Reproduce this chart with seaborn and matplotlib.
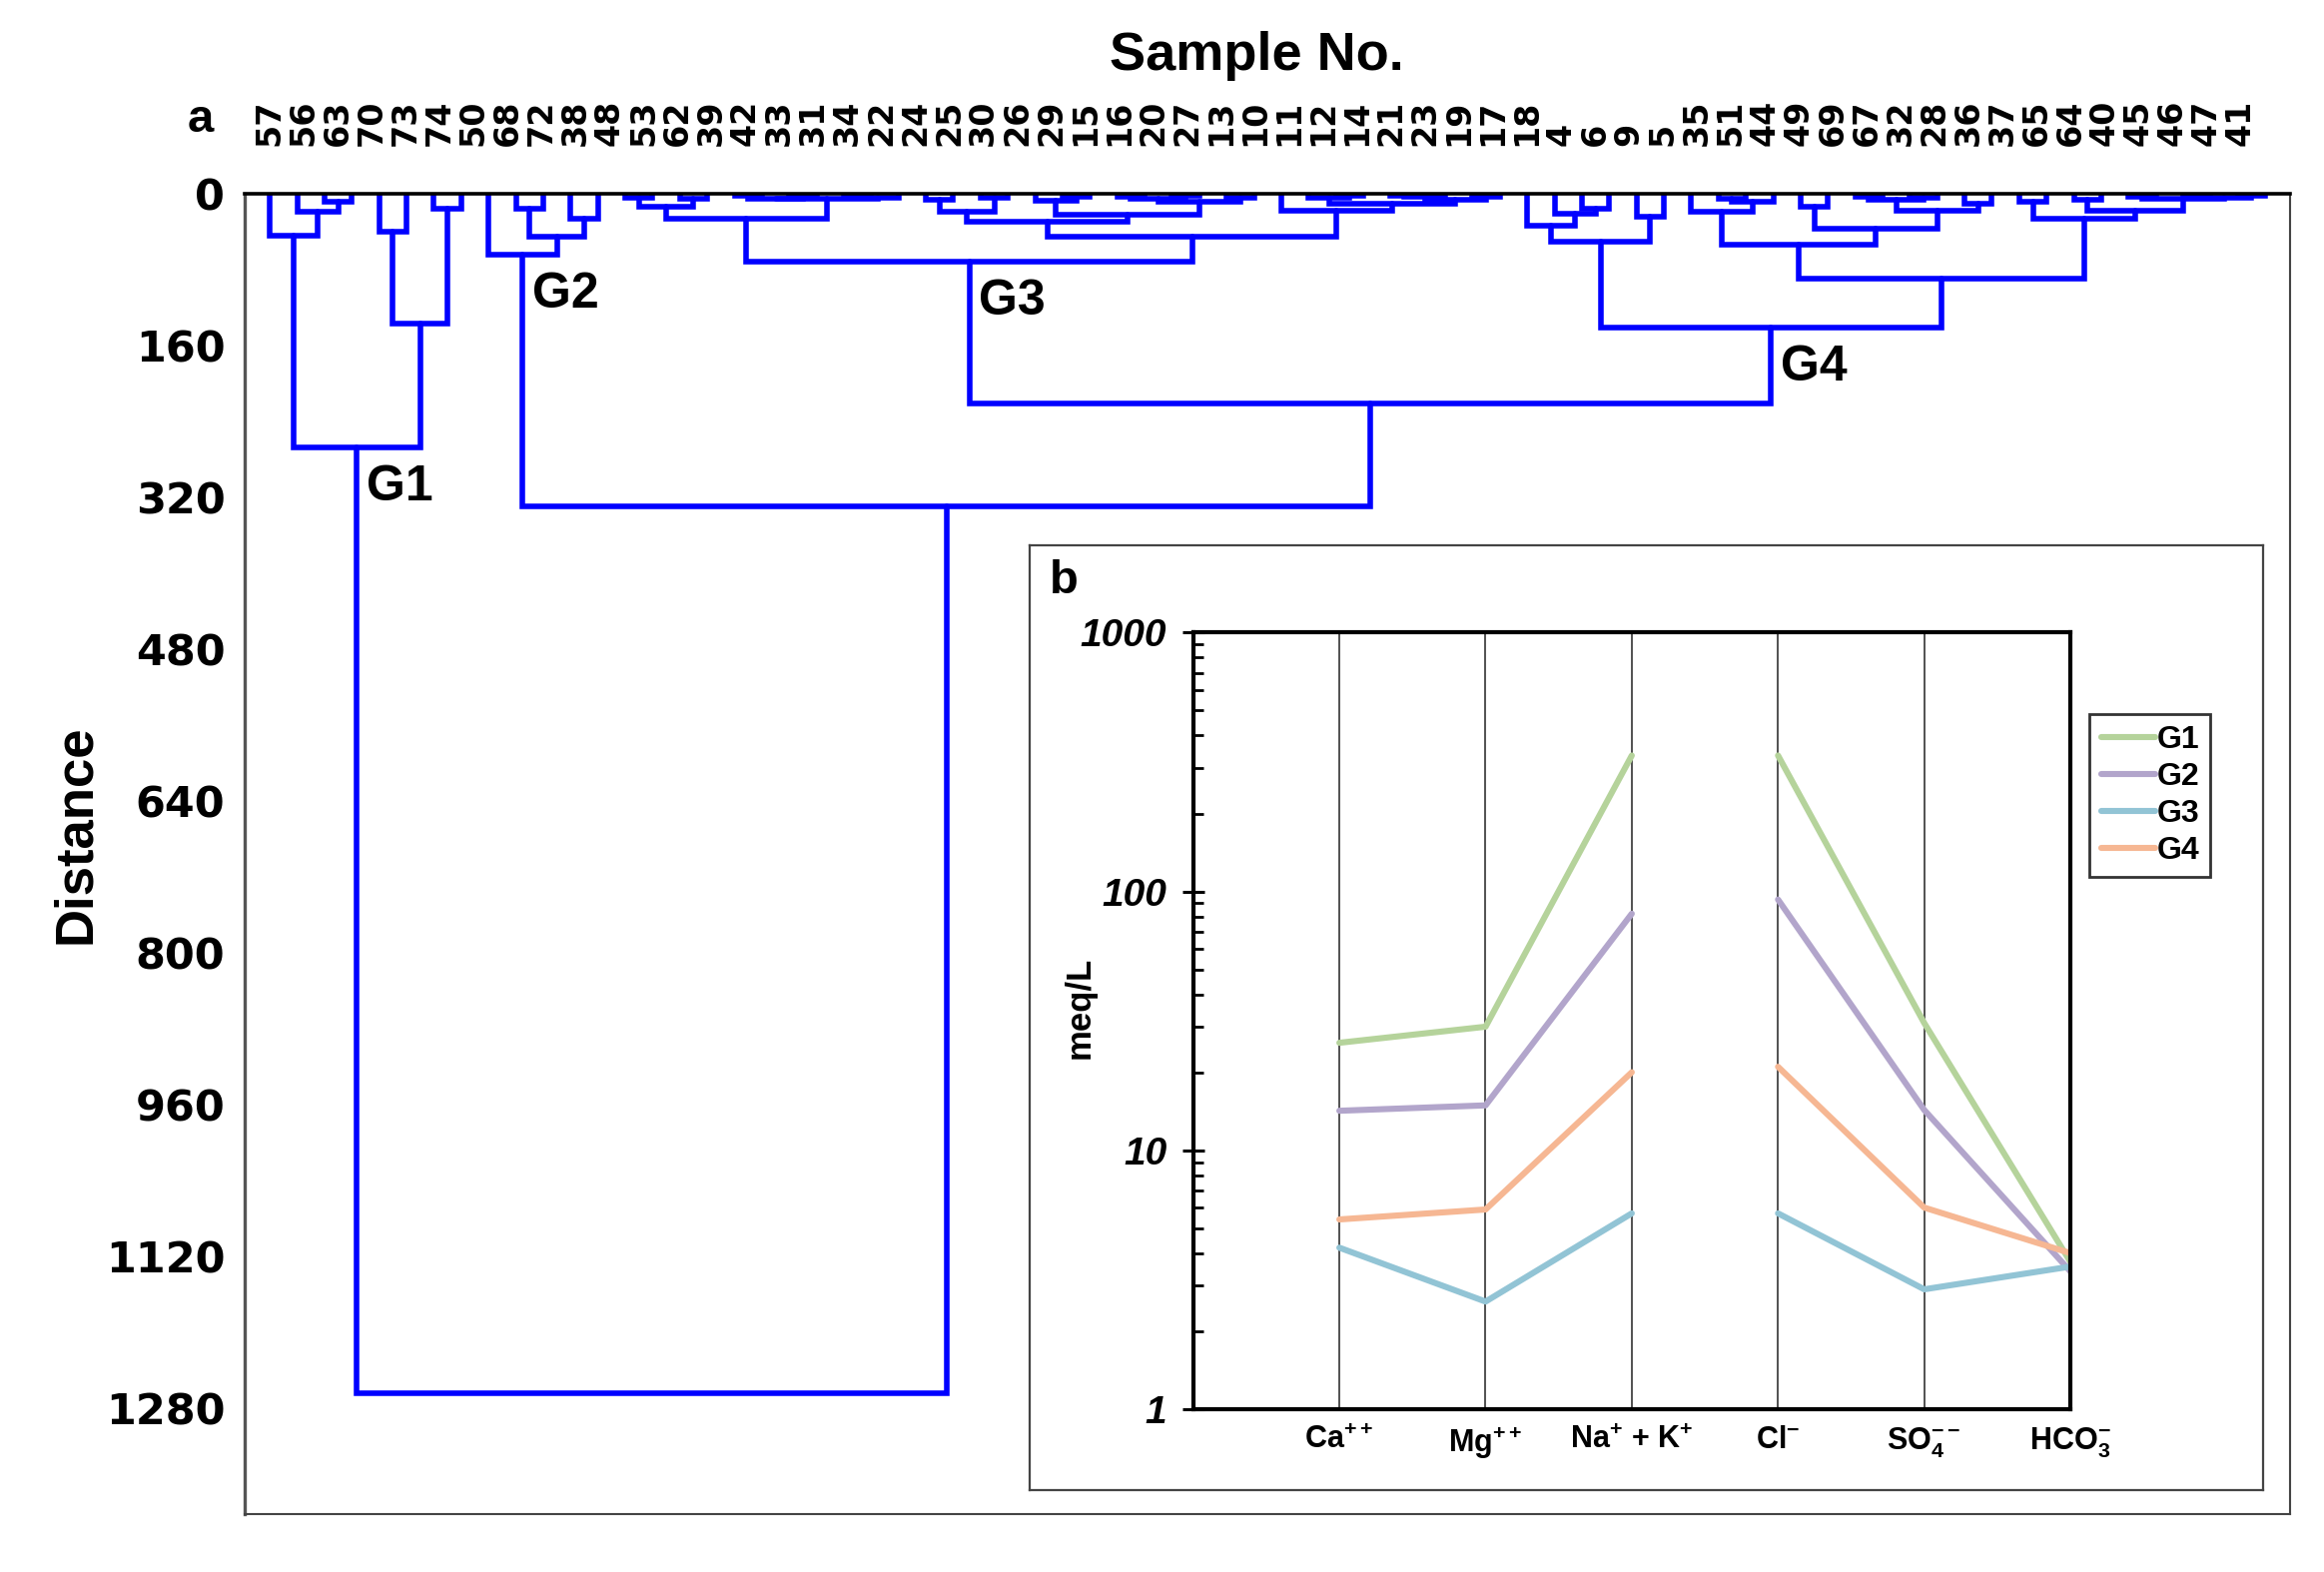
import numpy as np
import pandas as pd
import matplotlib
matplotlib.use("Agg")
import matplotlib.pyplot as plt
from matplotlib.ticker import LogLocator, NullFormatter
import seaborn as sns

# --- Dendrogram data (panel a) ---
SAMPLE_LABELS = [57, 56, 63, 70, 73, 74, 50, 68, 72, 38, 48, 53, 62, 39, 42, 33, 31,
                 34, 22, 24, 25, 30, 26, 29, 15, 16, 20, 27, 13, 10, 11, 12, 14, 21,
                 23, 19, 17, 18, 4, 6, 9, 5, 35, 51, 44, 49, 69, 67, 32, 28, 36, 37,
                 65, 64, 40, 45, 46, 47, 41]
N_LEAVES = 74
DIST_TICKS = [0, 160, 320, 480, 640, 800, 960, 1120, 1280]

# node = (left, right, merge distance); an int is a leaf slot
G1 = ((0, (1, (2, 3, 8), 19), 44), ((4, 5, 40), (6, 7, 15), 136), 267)
G2 = (8, ((9, 10, 15), (11, 12, 26), 45), 64)
G3_LEFT = (((13, 14, 4), (15, 16, 5), 13.5),
           (((17, 18, 2), (19, 20, 3), 4.5), ((21, 22, 2), 23, 3.5), 5), 26)
G3_RIGHT = ((((24, 25, 6), (26, 27, 4), 19),
             ((28, (29, 30, 3), 7), (((31, 32, 3), (33, 34, 2), 5), (35, 36, 4), 7.5), 22), 29),
            (37, ((38, (39, 40, 2), 4), (((41, 42, 2), 43, 3), (44, 45, 3), 6), 10), 17), 45)
G3 = (G3_LEFT, G3_RIGHT, 71)
G4_LEFT = ((46, (47, (48, 49, 15), 20.5), 33), (50, 51, 24), 50)
G4_RIGHT = (((52, ((53, 54, 5), 55, 8), 18.6),
             ((56, 57, 13), (((58, 59, 3), (60, 61, 4), 6), (62, 63, 10), 18), 36), 53.7),
            ((64, 65, 8), ((66, 67, 6), ((68, 69, 3), ((70, 71, 2), (72, 73, 2), 4), 5), 17), 25.7),
            88.6)
G4 = (G4_LEFT, G4_RIGHT, 141)
ROOT = (G1, (G2, (G3, G4, 221), 329.5), 1265)
GROUPS = {"G1": G1, "G2": G2, "G3": G3, "G4": G4}

# --- Ion data (panel b), meq/L ---
IONS = [r"Ca$^{++}$", r"Mg$^{++}$", r"Na$^{+}$ + K$^{+}$", r"Cl$^{-}$",
        r"SO$_4^{--}$", r"HCO$_3^{-}$"]
ION_SIDE = ["cation", "cation", "cation", "anion", "anion", "anion"]
G1_MEQ = [26, 30, 335, 335, 31, 3.7]
G2_MEQ = [14.2, 14.9, 82, 93, 14.3, 3.4]
G3_MEQ = [4.2, 2.6, 5.7, 5.7, 2.9, 3.55]
G4_MEQ = [5.4, 5.9, 20, 21, 6.0, 4.0]
GROUP_COLORS = {"G1": "#b5d39b", "G2": "#b2a5cb", "G3": "#92c4d5", "G4": "#f6b793"}

# --- Styling ---
sns.set_theme(style="white")
plt.rcParams["font.family"] = ["Liberation Sans", "DejaVu Sans"]
plt.rcParams.update({
    "text.color": "black",
    "axes.labelcolor": "black",
    "xtick.color": "black",
    "ytick.color": "black",
    "mathtext.fontset": "custom",
    "mathtext.rm": "Liberation Sans",
    "mathtext.bf": "Liberation Sans:bold",
    "mathtext.default": "bf",
})
BLUE = "#0000ff"
LABEL_SPAN = 72.1   # sample labels are spread evenly, not one per leaf

fig = plt.figure(figsize=(23.27, 15.74), dpi=100)
ax = fig.add_axes([0.1052, 0.0368, 0.8801, 0.8397])


def walk(node, segs):
    if isinstance(node, int):
        return float(node), 0.0
    left, right, h = node
    xl, hl = walk(left, segs)
    xr, hr = walk(right, segs)
    segs.append(([xl, xl, xr, xr], [hl, h, h, hr]))
    return (xl + xr) / 2, h


segments = []
walk(ROOT, segments)
for xs, ys in segments:
    ax.plot(xs, ys, color=BLUE, lw=4.0, solid_joinstyle="miter")

for name, node in GROUPS.items():
    gx, gh = walk(node, [])
    ax.text(gx + 0.35, gh + 18, name, ha="left", va="top", fontsize=36,
            fontweight="bold", color="black")

ax.set_xlim(-0.93, 73.9)
ax.set_ylim(1392, 0)

tick_pos = np.linspace(0, LABEL_SPAN, len(SAMPLE_LABELS))
ax.xaxis.tick_top()
ax.set_xticks(tick_pos)
ax.set_xticklabels([str(s) for s in SAMPLE_LABELS], rotation=90, fontsize=24,
                   fontweight="bold", family="DejaVu Sans")
ax.tick_params(axis="x", length=0, pad=35)
ax.xaxis.set_label_position("top")
ax.set_xlabel("Sample No.", fontsize=39, fontweight="bold")
ax.xaxis.set_label_coords(0.495, 1.094)

ax.set_yticks(DIST_TICKS)
ax.set_yticklabels([str(t) for t in DIST_TICKS], fontsize=31, fontweight="bold",
                   family="DejaVu Sans")
ax.tick_params(axis="y", direction="out", length=11, width=1.6, color="#555555", pad=3)
ax.set_ylabel("Distance", fontsize=38, fontweight="bold")
ax.yaxis.set_label_coords(-0.070, 0.515)

ax.spines["top"].set_color("black")
ax.spines["top"].set_linewidth(2.6)
ax.spines["left"].set_color("#555555")
ax.spines["left"].set_linewidth(2.4)
for s in ("right", "bottom"):
    ax.spines[s].set_color("#444444")
    ax.spines[s].set_linewidth(1.5)

fig.text(0.0861, 0.9237, "a", fontsize=34, fontweight="bold", ha="center", va="center")

# --- Inset panel b ---
frame = fig.add_axes([0.4432, 0.0518, 0.5307, 0.6014])
frame.set_xticks([])
frame.set_yticks([])
frame.set_facecolor("white")
for s in frame.spines.values():
    s.set_color("#444444")
    s.set_linewidth(1.6)

axb = fig.add_axes([0.5134, 0.1037, 0.3775, 0.4939])
pos = np.arange(1, len(IONS) + 1)
df = pd.concat([
    pd.DataFrame({"pos": pos, "meq": vals, "group": g, "side": ION_SIDE})
    for g, vals in zip(["G1", "G2", "G3", "G4"], [G1_MEQ, G2_MEQ, G3_MEQ, G4_MEQ])
])
sns.lineplot(data=df, x="pos", y="meq", hue="group", units="side", estimator=None,
             palette=GROUP_COLORS, lw=4.4, sort=False, ax=axb)

axb.set_yscale("log")
axb.set_ylim(1, 1000)
axb.set_xlim(0, len(IONS))
axb.set_yticks([1, 10, 100, 1000])
axb.set_yticklabels(["1", "10", "100", "1000"], fontsize=28, fontweight="bold",
                    fontstyle="italic")
axb.yaxis.set_minor_locator(LogLocator(base=10, subs=np.arange(2, 10)))
axb.yaxis.set_minor_formatter(NullFormatter())
axb.tick_params(axis="y", which="major", direction="inout", length=16, width=2.2,
                color="black", pad=11, left=True)
axb.tick_params(axis="y", which="minor", direction="in", length=7, width=2,
                color="black", left=True)
axb.set_xticks(pos)
axb.set_xticklabels(IONS, fontsize=22, fontweight="bold")
axb.tick_params(axis="x", length=0, pad=12)
axb.grid(axis="x", color="#333333", lw=1.2)
axb.grid(axis="y", visible=False)
axb.set_xlabel("")
axb.set_ylabel("meq/L", fontsize=25, fontweight="bold")
axb.yaxis.set_label_coords(-0.110, 0.517)
for s in axb.spines.values():
    s.set_color("black")
    s.set_linewidth(3)

sns.move_legend(axb, loc="upper left", bbox_to_anchor=(1.022, 0.895), title=None,
                frameon=True, fancybox=False, edgecolor="black", handlelength=1.7,
                handletextpad=0.05, borderpad=0.35, labelspacing=0.22, borderaxespad=0,
                prop={"weight": "bold", "size": 23})
leg = axb.get_legend()
leg.get_frame().set_linewidth(2)
for line in leg.get_lines():
    line.set_linewidth(4.4)

fig.text(0.4579, 0.6305, "b", fontsize=34, fontweight="bold", ha="center", va="center")

fig.savefig("out.png", dpi=100, facecolor="white")
